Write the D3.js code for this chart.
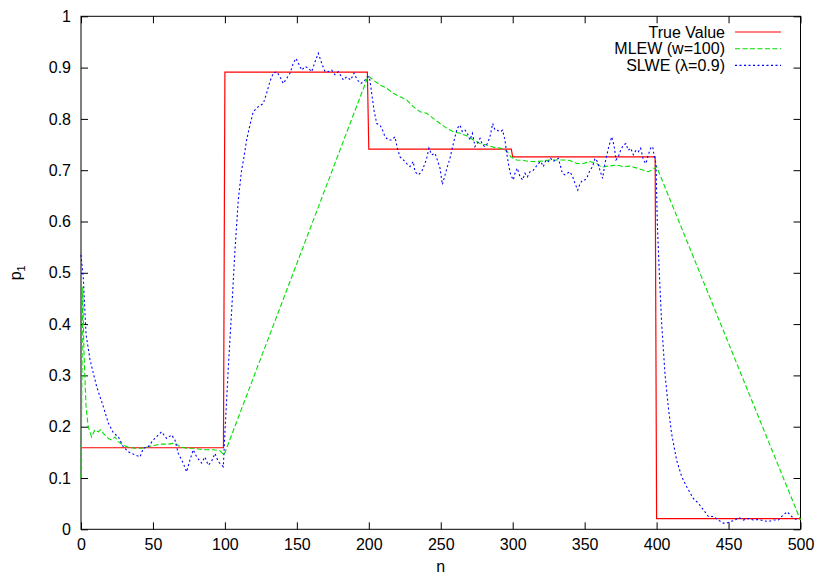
<!DOCTYPE html>
<meta charset="utf-8">
<script src="https://d3js.org/d3.v7.min.js"></script>
<style>
  body { margin: 0; background: #fff; }
  text { font-family: "Liberation Sans", Arial, sans-serif; font-size: 16px; fill: #000; }
</style>
<svg width="817" height="575"></svg>
<script>
// series data as [n, p1]
var trueValue = [[0,0.159],[99,0.159],[100,0.891],[199,0.891],[200,0.741],[299,0.741],[300,0.726],[399,0.726],[400,0.021],[500,0.021]];

var mlew = [[0,0.10],[1.2,0.473],[2,0.35],[3.5,0.239],[5,0.20],[7.4,0.18],[9.7,0.194],[12,0.19],[13.7,0.194],[15.5,0.187],
  [19,0.177],[21.3,0.174],[23.6,0.18],[25.9,0.171],[29.4,0.164],[32.9,0.16],[37.5,0.158],[42.2,0.158],[46.8,0.161],[51.4,0.164],
  [56,0.166],[60.7,0.166],[65.3,0.168],[68.8,0.161],[73.4,0.158],[78,0.158],[82.7,0.156],[87.3,0.155],[91.9,0.155],[96.6,0.153],
  [99.4,0.145],[199.6,0.884],[203,0.876],[207.8,0.866],[212.4,0.86],[217,0.85],[221.7,0.843],[226.3,0.837],[230.9,0.824],
  [235.6,0.814],[240.2,0.811],[244.8,0.801],[249.5,0.791],[254.1,0.782],[258.7,0.775],[263.4,0.772],[268,0.767],[272.7,0.759],
  [277.3,0.752],[281.9,0.749],[286.6,0.745],[291.2,0.743],[295.8,0.738],[298.6,0.726],[302.7,0.72],[307.4,0.719],[312,0.717],
  [316.7,0.717],[321.3,0.718],[325.9,0.72],[330.6,0.72],[335.2,0.72],[339.8,0.719],[344.5,0.713],[349.1,0.713],[353.7,0.717],
  [358.4,0.713],[361.8,0.706],[366.4,0.708],[372.3,0.71],[376.9,0.707],[381.5,0.708],[386.2,0.704],[390.8,0.70],[394.2,0.697],
  [397.7,0.702],[400,0.707],[500,0.018]];

var slwe = [[0,0.535],[1.6,0.49],[3.5,0.38],[6.3,0.33],[10.9,0.278],[15.5,0.239],[19,0.207],[22.5,0.188],[26,0.18],[29.4,0.161],
  [32.9,0.151],[37.5,0.145],[41,0.141],[43.3,0.158],[46.8,0.161],[50.2,0.174],[53.7,0.184],[56,0.19],[59.5,0.177],[63,0.184],
  [65.3,0.174],[67.6,0.148],[71,0.129],[73.4,0.112],[75.7,0.135],[78,0.155],[80.4,0.141],[83.8,0.129],[86.1,0.141],[88.4,0.125],
  [90.7,0.132],[93.1,0.148],[95.4,0.132],[98.9,0.122],[100,0.187],[102.4,0.317],[104.7,0.427],[107,0.544],[109.3,0.642],
  [111.6,0.70],[113.3,0.726],[115.1,0.759],[117.4,0.788],[119.7,0.814],[123.2,0.824],[126.7,0.83],[129,0.85],[131.3,0.873],
  [133.6,0.889],[136,0.892],[138.3,0.882],[140.6,0.869],[142.9,0.879],[145.2,0.889],[147.5,0.908],[149.4,0.918],[151.7,0.905],
  [153.4,0.895],[155.7,0.902],[158,0.899],[160.3,0.892],[162.6,0.911],[164.9,0.928],[167.3,0.908],[169.6,0.892],[171.9,0.892],
  [174.2,0.895],[176.5,0.886],[178.8,0.892],[182.3,0.876],[184.6,0.882],[187.4,0.876],[189.7,0.889],[192,0.876],[194.4,0.869],
  [196.7,0.873],[199,0.882],[200.4,0.882],[202,0.85],[203.6,0.817],[205.5,0.791],[207.8,0.788],[209.6,0.778],[211.3,0.765],
  [213.6,0.759],[215.9,0.759],[218.2,0.765],[219.8,0.743],[221.7,0.726],[224,0.72],[226.3,0.713],[228.6,0.707],[230.9,0.717],
  [232.1,0.697],[234.4,0.691],[236.7,0.697],[239,0.713],[240.2,0.723],[241.8,0.743],[243.7,0.73],[246,0.733],[247.6,0.72],
  [249.5,0.704],[251.1,0.672],[253,0.691],[254.6,0.707],[256.4,0.723],[258,0.743],[259.9,0.765],[261.5,0.782],[263.4,0.788],
  [265,0.775],[266.9,0.778],[268.5,0.772],[270.3,0.759],[272,0.772],[273.8,0.746],[275.4,0.752],[277.3,0.762],[279.1,0.749],
  [280.8,0.746],[282.4,0.752],[284.2,0.765],[286.1,0.791],[287.7,0.778],[289.3,0.778],[291.2,0.775],[293,0.778],[294.6,0.759],
  [296.2,0.726],[297.4,0.707],[298.6,0.691],[300.4,0.681],[301.6,0.694],[303.2,0.704],[305.1,0.687],[306.9,0.681],[308.5,0.694],
  [310.2,0.687],[312,0.697],[314.3,0.70],[316.2,0.707],[317.8,0.713],[319.5,0.717],[321.3,0.707],[323.1,0.72],[324.8,0.717],
  [326.4,0.723],[328.2,0.717],[329.9,0.72],[331.7,0.723],[333.3,0.707],[334.5,0.694],[336.3,0.691],[337.9,0.694],[339.8,0.697],
  [341.7,0.687],[343.3,0.674],[345.2,0.661],[346.8,0.674],[348.7,0.681],[350.2,0.681],[351.8,0.687],[353.7,0.70],[355.5,0.707],
  [357.2,0.723],[358.8,0.717],[360.6,0.70],[362.5,0.684],[364.1,0.713],[365.7,0.733],[367.1,0.749],[368.8,0.765],[370.4,0.749],
  [371.8,0.72],[373.4,0.726],[375,0.739],[376.9,0.749],[378.7,0.752],[380.3,0.739],[382,0.743],[383.8,0.73],[385.7,0.739],
  [387.3,0.736],[388.9,0.743],[390.8,0.72],[392.6,0.713],[394.2,0.73],[395.9,0.743],[397.3,0.746],[398.4,0.726],[399.6,0.713],
  [400.5,0.597],[401.9,0.499],[403.5,0.402],[405.8,0.304],[408.1,0.239],[410.4,0.187],[413.9,0.135],[417.4,0.103],[420.9,0.083],
  [425.5,0.06],[429,0.051],[432.5,0.038],[436,0.025],[439.4,0.025],[442.9,0.018],[446.4,0.012],[448.7,0.012],[451,0.015],
  [454.5,0.018],[457.3,0.023],[460.2,0.018],[463.7,0.021],[467.2,0.018],[470.7,0.019],[474.1,0.017],[477.6,0.015],[481.1,0.018],
  [484.6,0.018],[488,0.028],[490.8,0.034],[493.8,0.025],[497.3,0.019],[499.1,0.019]];

var xTicks = [0, 50, 100, 150, 200, 250, 300, 350, 400, 450, 500];
var yTicks = [0, 0.1, 0.2, 0.3, 0.4, 0.5, 0.6, 0.7, 0.8, 0.9, 1];
var seriesNames = ["True Value", "MLEW (w=100)", "SLWE (\u03bb=0.9)"];

var plotLeft = 81, plotRight = 800.5, plotTop = 16.3, plotBottom = 529.3;
var svg = d3.select("svg");

var x = d3.scaleLinear().domain([0, 500]).range([plotLeft, plotRight]);
var y = d3.scaleLinear().domain([0, 1]).range([plotBottom, plotTop]);
var fmt = function (d) { return String(+d.toFixed(1)); };

function axisStyle(g) {
  g.select(".domain").remove();
  g.selectAll(".tick line").attr("stroke", "#000").attr("stroke-width", 1);
  g.attr("font-family", null).attr("font-size", null);
}

svg.append("g").attr("transform", "translate(0," + plotBottom + ")")
  .call(d3.axisBottom(x).tickValues(xTicks).tickSizeInner(-7).tickSizeOuter(0).tickPadding(9))
  .call(axisStyle);
svg.append("g").attr("transform", "translate(0," + plotTop + ")")
  .call(d3.axisTop(x).tickValues(xTicks).tickSizeInner(-7).tickSizeOuter(0).tickFormat(""))
  .call(axisStyle);
svg.append("g").attr("transform", "translate(" + plotLeft + ",0)")
  .call(d3.axisLeft(y).tickValues(yTicks).tickFormat(fmt).tickSizeInner(-7).tickSizeOuter(0).tickPadding(10))
  .call(axisStyle);
svg.append("g").attr("transform", "translate(" + plotRight + ",0)")
  .call(d3.axisRight(y).tickValues(yTicks).tickSizeInner(-7).tickSizeOuter(0).tickFormat(""))
  .call(axisStyle);

svg.append("rect")
  .attr("x", plotLeft).attr("y", plotTop)
  .attr("width", plotRight - plotLeft).attr("height", plotBottom - plotTop)
  .attr("fill", "none").attr("stroke", "#000").attr("stroke-width", 1);

// axis labels
svg.append("text").attr("x", (plotLeft + plotRight) / 2).attr("y", 572)
  .attr("text-anchor", "middle").text("n");
var yl = svg.append("text").attr("transform", "translate(21," + ((plotTop + plotBottom) / 2) + ") rotate(-90)")
  .attr("text-anchor", "middle");
yl.append("tspan").text("p");
yl.append("tspan").attr("font-size", "11px").attr("dy", 4).text("1");

var line = d3.line().x(function (d) { return x(d[0]); }).y(function (d) { return y(d[1]); });

var styles = [
  { data: trueValue, color: "#ff0000", dash: null, width: 1.2 },
  { data: mlew, color: "#00e000", dash: "5,2.5", width: 1.1 },
  { data: slwe, color: "#0000ff", dash: "2,2.5", width: 1.1 }
];

styles.forEach(function (s) {
  svg.append("path").datum(s.data)
    .attr("d", line)
    .attr("fill", "none")
    .attr("stroke", s.color)
    .attr("stroke-width", s.width)
    .attr("stroke-dasharray", s.dash);
});

// legend
var legend = svg.append("g");
seriesNames.forEach(function (name, i) {
  var ly = 32 + i * 16.7;
  legend.append("text").attr("x", 725).attr("y", ly + 5.5)
    .attr("text-anchor", "end").text(name);
  legend.append("line")
    .attr("x1", 735).attr("x2", 781).attr("y1", ly).attr("y2", ly)
    .attr("stroke", styles[i].color).attr("stroke-width", styles[i].width)
    .attr("stroke-dasharray", styles[i].dash);
});
</script>
